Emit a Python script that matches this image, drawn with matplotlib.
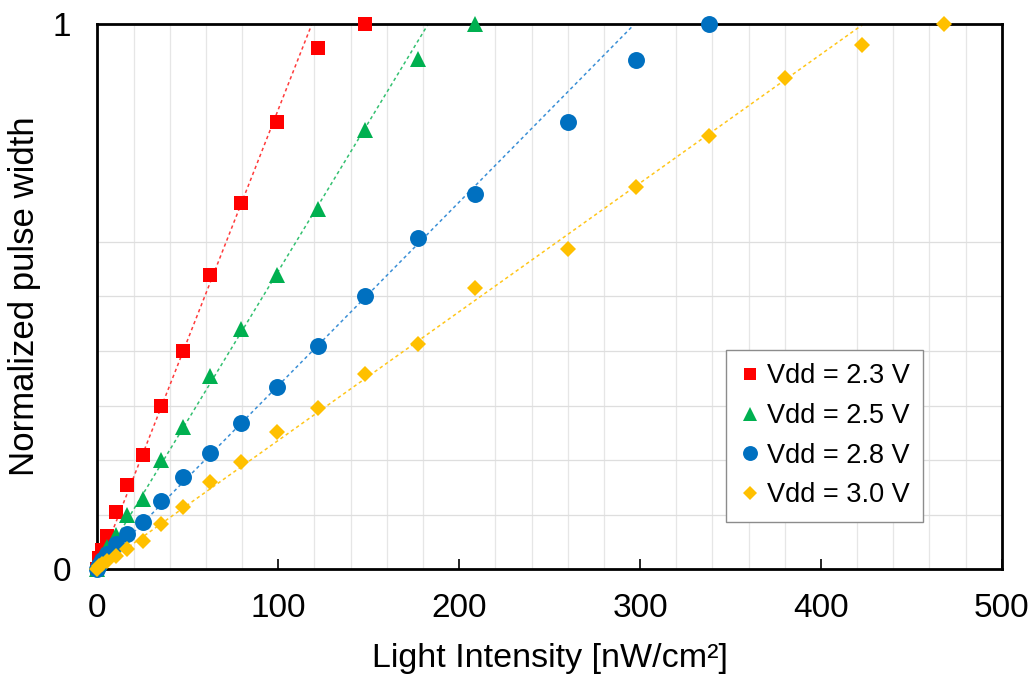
import numpy as np
import matplotlib
matplotlib.use("Agg")
import matplotlib.pyplot as plt

plt.rcParams['font.family'] = ['Liberation Sans', 'DejaVu Sans']

# -----------------------------
# DATA
# -----------------------------
light = [0, 1, 2.5, 5, 10, 16.5, 25, 35, 47.5, 62, 79.5, 99.5, 122, 148,
         177, 209, 260, 298, 338, 380, 423, 468]

pw_23 = [0, 0.02, 0.035, 0.06, 0.105, 0.155, 0.21, 0.30, 0.40, 0.54, 0.672,
         0.82, 0.955, 1.0]
pw_25 = [0, 0.012, 0.025, 0.04, 0.062, 0.10, 0.128, 0.20, 0.26, 0.355, 0.44,
         0.54, 0.66, 0.805, 0.935, 1.0]
pw_28 = [0, 0.008, 0.016, 0.027, 0.046, 0.064, 0.087, 0.125, 0.168, 0.212,
         0.267, 0.334, 0.41, 0.50, 0.607, 0.688, 0.82, 0.933, 1.0]
pw_30 = [0, 0.005, 0.01, 0.014, 0.024, 0.036, 0.052, 0.082, 0.113, 0.16,
         0.197, 0.251, 0.296, 0.358, 0.412, 0.516, 0.587, 0.701, 0.794,
         0.901, 0.961, 1.0]

labels = ["Vdd = 2.3 V", "Vdd = 2.5 V", "Vdd = 2.8 V", "Vdd = 3.0 V"]
# upper end of the linear region used for each trend line
fit_max = [100, 150, 210, 340]

series = [pw_23, pw_25, pw_28, pw_30]
colors = ["#ff0000", "#00b050", "#0070c0", "#ffc000"]
line_colors = ["#ff3b3b", "#33c070", "#3a8fd6", "#ffc61a"]
markers = ["s", "^", "o", "D"]
msizes = [10.5, 11, 12.2, 8.5]

# -----------------------------
# FIGURE
# -----------------------------
fig = plt.figure(figsize=(10.35, 6.75), dpi=100)
ax = fig.add_axes([0.0942, 0.157, 0.8736, 0.8075])

for ys, c, lc, m, ms, lab, fm in zip(series, colors, line_colors, markers,
                                      msizes, labels, fit_max):
    xs = np.array(light[:len(ys)])
    ys = np.array(ys)
    sel = xs <= fm
    # linear trend through the origin
    k = np.sum(xs[sel] * ys[sel]) / np.sum(xs[sel] ** 2)
    ax.plot([0, 1 / k], [0, 1], color=lc, lw=1.1, ls=(0, (2.2, 2.0)),
            zorder=2)
    ax.plot(xs, ys, ls="none", marker=m, ms=ms, mew=0, color=c,
            label=lab, clip_on=False, zorder=3)

ax.set_xlim(0, 500)
ax.set_ylim(0, 1)

ax.set_xticks([0, 100, 200, 300, 400, 500])
ax.set_xticks(np.arange(20, 500, 20), minor=True)
ax.set_yticks([0, 1])
ax.set_yticks([0.1, 0.2, 0.3, 0.4, 0.5, 0.6], minor=True)

ax.grid(which="minor", axis="x", color="#e6e6e6", lw=0.9)
ax.grid(which="minor", axis="y", color="#dedede", lw=0.9)
ax.set_axisbelow(True)

ax.tick_params(axis="x", which="major", direction="in", length=7, width=1.2,
               labelsize=24, pad=17, top=False)
ax.tick_params(axis="y", which="major", length=0, labelsize=24, pad=19)
ax.tick_params(which="minor", length=0)

for s in ax.spines.values():
    s.set_linewidth(2.0)
    s.set_color("black")

ax.set_xlabel("Light Intensity [nW/cm²]", fontsize=24.5, labelpad=14)
ax.set_ylabel("Normalized pulse width", fontsize=25, labelpad=8)

leg = ax.legend(loc="upper left", bbox_to_anchor=(0.695, 0.402),
                borderaxespad=0, fontsize=19.5, frameon=True, fancybox=False,
                edgecolor="#8c8c8c", framealpha=1, markerscale=0.88,
                handlelength=0.75, handletextpad=0.25, labelspacing=0.5,
                borderpad=0.5)
leg.get_frame().set_linewidth(1.0)

fig.savefig("out.png", dpi=100)
